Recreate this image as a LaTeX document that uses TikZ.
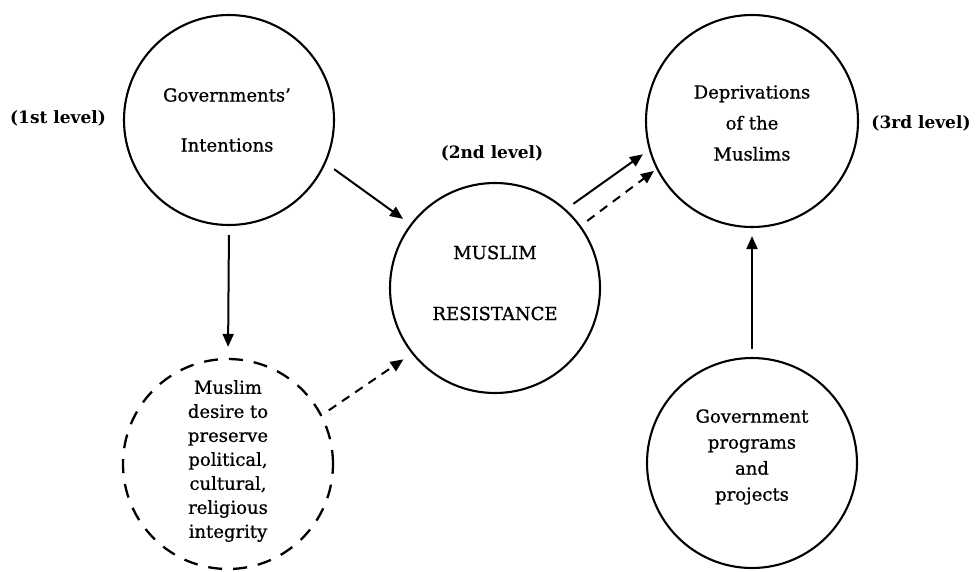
\documentclass[tikz,border=0pt]{standalone}
\usepackage{fontspec}
\setmainfont{DejaVu Serif}
\newfontfamily\heavyserif{DejaVu Serif}[FakeBold=0.8,Ligatures=TeX]
\usetikzlibrary{arrows.meta}
\begin{document}
\begin{tikzpicture}[x=1pt,y=-1pt,
  circ/.style={circle,draw,line width=2.1pt,inner sep=0pt,minimum size=210pt},
  dcirc/.style={circ,line width=2.3pt,dash pattern=on 14pt off 11pt},
  txt/.style={align=center,inner sep=0pt},
  lvl/.style={font=\fontsize{17}{20}\selectfont\bfseries,inner sep=0pt},
  arr/.style={line width=2pt,-{Triangle[length=13pt,width=11pt]}},
  darr/.style={arr,dash pattern=on 9pt off 7pt}]
\useasboundingbox (0,0) rectangle (977,571);
% circles
\node[circ] (gov) at (229,120) {};
\node[dcirc] (des) at (228,464) {};
\node[circ] (res) at (495,288) {};
\node[circ,minimum size=212pt] (dep) at (752,121) {};
\node[circ] (prog) at (752,463) {};
% texts
\node[txt,font=\heavyserif\fontsize{18}{50}\selectfont] (govt) at (227,120) {Governments’\\Intentions};
\node[txt,font=\heavyserif\fontsize{18}{24}\selectfont] (dest) at (228,461) {Muslim\\desire to\\preserve\\political,\\cultural,\\religious\\integrity};
\node[txt,font=\heavyserif\fontsize{18}{61}\selectfont] (rest) at (495,283) {MUSLIM\\RESISTANCE};
\node[txt,font=\heavyserif\fontsize{18}{31}\selectfont] (dept) at (752,123) {Deprivations\\of the\\Muslims};
\node[txt,font=\heavyserif\fontsize{18}{26}\selectfont] (progt) at (752,457) {Government\\programs\\and\\projects};
% level labels
\node[lvl] (l1) at (58,118) {(1st level)};
\node[lvl] (l2) at (492,153) {(2nd level)};
\node[lvl] (l3) at (921,123) {(3rd level)};
% connectors
\draw[arr,shorten <=9pt,shorten >=11pt] (gov.-90) -- (des.90);
\draw[arr] ([shift={(-25.7:10pt)}]gov.-25.7) -- ([shift={(143.8:9pt)}]res.143.8);
\draw[arr] ([shift={(47.5:9pt)}]res.47.5) -- ([shift={(-163.6:7pt)}]dep.-163.6);
\draw[darr] ([shift={(36.5:8pt)}]res.36.5) -- ([shift={(-153.2:3pt)}]dep.-153.2);
\draw[darr] ([shift={(28.6:8pt)}]des.28.6) -- ([shift={(-142.7:10pt)}]res.-142.7);
\draw[arr,shorten <=8pt,shorten >=8pt] (prog.90) -- (dep.-90);
\end{tikzpicture}
\end{document}
